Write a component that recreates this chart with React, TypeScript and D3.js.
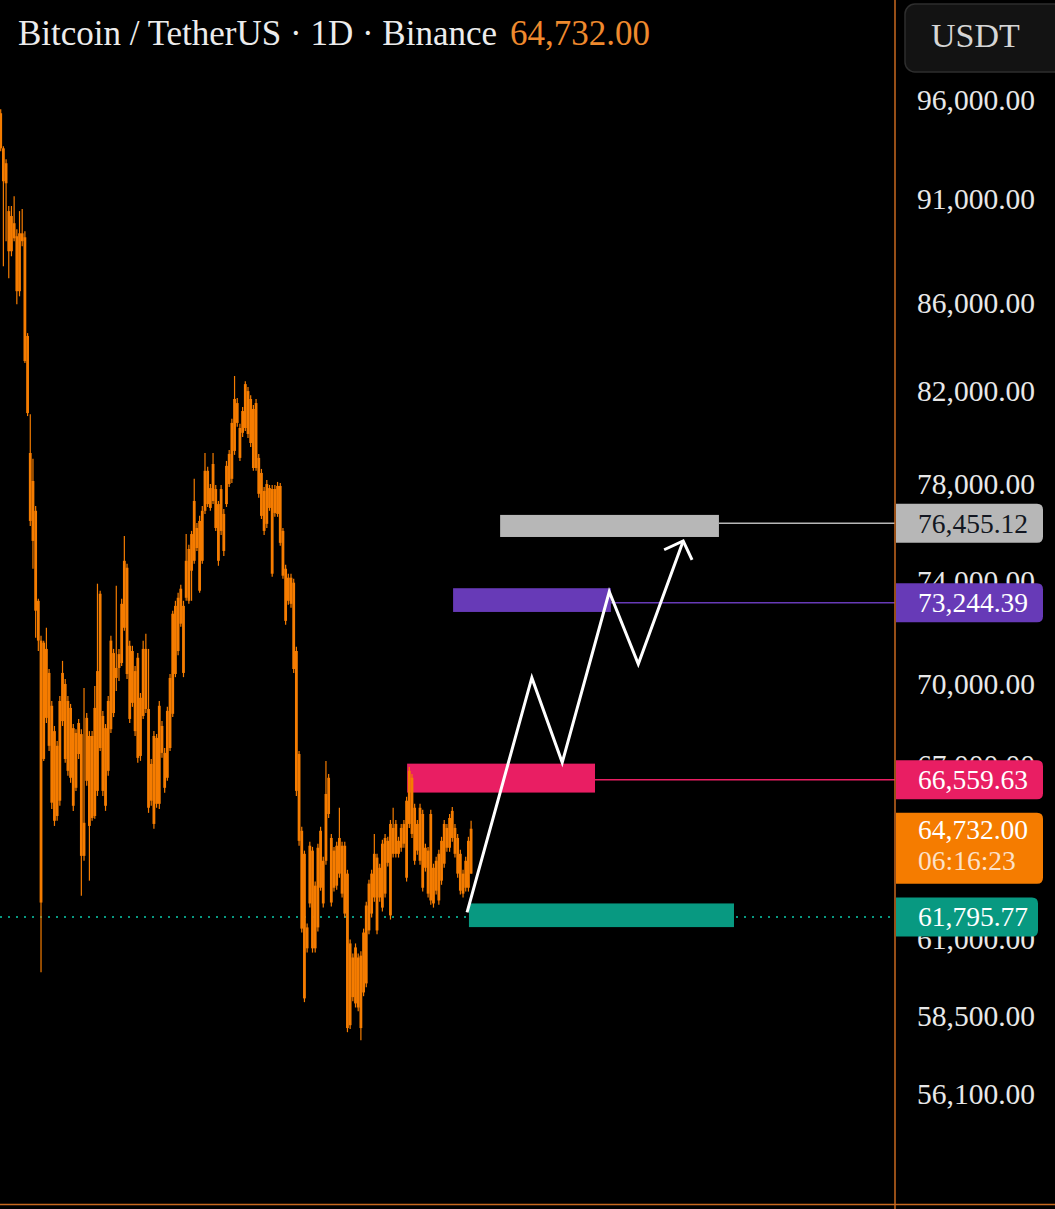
import { useEffect, useRef } from "react";
import * as d3 from "d3";

// daily candles, [open, high, low, close]
const ohlc: [number, number, number, number][] = [
  [95300, 95500, 93360, 93510], [93510, 93620, 87730, 91860], [91760, 92960, 88930, 92760], [90390, 90640, 87170, 88450],
  [88450, 90640, 88210, 90150], [89800, 91120, 88930, 89070], [89170, 89510, 85950, 86560], [86560, 90390, 86320, 89310],
  [89310, 90490, 88690, 88930], [89120, 89410, 83260, 83350], [84490, 84620, 80910, 81040], [79310, 80990, 76240, 76450],
  [78120, 79060, 74500, 75630], [76870, 77070, 71770, 72830], [73220, 73300, 71260, 71660], [71660, 71850, 59900, 62200],
  [67220, 71660, 67150, 71580], [71340, 72160, 68540, 68730], [70420, 70570, 67510, 67700], [69180, 69360, 65430, 65650],
  [68240, 68430, 64830, 65010], [65180, 67880, 65010, 67700], [65720, 69550, 65540, 69360], [68610, 70880, 68430, 70420],
  [70000, 70190, 67080, 67220], [66790, 69550, 66610, 69360], [69100, 69250, 66360, 66540], [68350, 68500, 65360, 65540],
  [66180, 68310, 66070, 68170], [68540, 68690, 67220, 67400], [68130, 68310, 62430, 63790], [63790, 69850, 63620, 64940],
  [66430, 68910, 66250, 68730], [68060, 68240, 62940, 64830], [65110, 68240, 65010, 68060], [65180, 69920, 65080, 69100],
  [66070, 73900, 65890, 70490], [73500, 73620, 67510, 67620], [68800, 68990, 65890, 66070], [65540, 68500, 65360, 68350],
  [66790, 69550, 66610, 69360], [68310, 71850, 68170, 71660], [71180, 71340, 68760, 68910], [70230, 73820, 69740, 70610],
  [70610, 71340, 70110, 71140], [70800, 73300, 70680, 73100], [72160, 75830, 72040, 74820], [74540, 74700, 70190, 70380],
  [71460, 71660, 68540, 68690], [69290, 71460, 69140, 71260], [70490, 70680, 68060, 68240], [67260, 71180, 67080, 71000],
  [69480, 69660, 67150, 67330], [68800, 71660, 68690, 71340], [71340, 71930, 68910, 69060], [69060, 71340, 65290, 65470],
  [65720, 67220, 65540, 67040], [68060, 68240, 64730, 64900], [65610, 68130, 65470, 67990], [65610, 69360, 65430, 69180],
  [68430, 68610, 67260, 67440], [67440, 67620, 66000, 66180], [66540, 69140, 66430, 68990], [67620, 70380, 67510, 70230],
  [68880, 72830, 68760, 72710], [70380, 73220, 70260, 73020], [71260, 73540, 71100, 73340], [72320, 73860, 72200, 73700],
  [73020, 73220, 70260, 70420], [73340, 75910, 73220, 74820], [73220, 75470, 73100, 75300], [74420, 76040, 73220, 75910],
  [74820, 78210, 74700, 77280], [76160, 76370, 75220, 75340], [76450, 76660, 73540, 73620], [74820, 77070, 74700, 76870],
  [76870, 79310, 76740, 78550], [78550, 78720, 77030, 77150], [76990, 77990, 76870, 77820], [77280, 79310, 77150, 78840],
  [77780, 77950, 76040, 76160], [77150, 77280, 74620, 74820], [76040, 77950, 75870, 77780], [76740, 76950, 75020, 75220],
  [77150, 78970, 77030, 78760], [77990, 79440, 77870, 79270], [78210, 80790, 78030, 80610], [79400, 82680, 79230, 81660],
  [81480, 81700, 80440, 80610], [80390, 80570, 78970, 79100], [80180, 81310, 80000, 81130], [80390, 82450, 80260, 82320],
  [82010, 82190, 79960, 80130], [81660, 81830, 79570, 79740], [81220, 81400, 78550, 78670], [78670, 81660, 78550, 81480],
  [79100, 79270, 77410, 77580], [78460, 78630, 76530, 76660], [77700, 77870, 75870, 76040], [76330, 78160, 76160, 77990],
  [77820, 77950, 76870, 76990], [77780, 77950, 74180, 74300], [76780, 77950, 76620, 77780], [76740, 78080, 76620, 77910],
  [77910, 78030, 75430, 75550], [76040, 76160, 74100, 74220], [74500, 74660, 72280, 72430], [73220, 74300, 73060, 74140],
  [74140, 74300, 72950, 73100], [73940, 74100, 70420, 70570], [71260, 71420, 65890, 66070], [67400, 67510, 64140, 64310],
  [64660, 64800, 61200, 61330], [63860, 63970, 58940, 59060], [60680, 61500, 60540, 61370], [62170, 64280, 62030, 64140],
  [63970, 64100, 60540, 60680], [60680, 62910, 60540, 62770], [61370, 64210, 61230, 64070], [62700, 64800, 62600, 64660],
  [63620, 63760, 62030, 62170], [63620, 67150, 63480, 65960], [65250, 66680, 65110, 66540], [64410, 64550, 62070, 62200],
  [62700, 64100, 62570, 63970], [64140, 64280, 62630, 62770], [63180, 65470, 63040, 64410], [64140, 64280, 62370, 62500],
  [61830, 64280, 61700, 64140], [63180, 63310, 57990, 58120], [58210, 60970, 58090, 60840], [60380, 60510, 58970, 59100],
  [58900, 60840, 58770, 60710], [60380, 60510, 58650, 58770], [60440, 60580, 57740, 58120], [59250, 61330, 59130, 61200],
  [59540, 62230, 59420, 62100], [61270, 62970, 61140, 62840], [61830, 63310, 61700, 63180], [62370, 64550, 62230, 63860],
  [63730, 63860, 61140, 61270], [62370, 63520, 62230, 63380], [62030, 64350, 61900, 64210], [64410, 64550, 62370, 62500],
  [63550, 64450, 63420, 64310], [61770, 65040, 61630, 64900], [63860, 65470, 63730, 64760], [64900, 65040, 63730, 63860],
  [63860, 64450, 63730, 64310], [64070, 64900, 63930, 64760], [64210, 65040, 64070, 64900], [63040, 65860, 62910, 65720],
  [64900, 66930, 64760, 66790], [66540, 66680, 64410, 64550], [65470, 65610, 63480, 63620], [63970, 65040, 63830, 64900],
  [63620, 65610, 63480, 65470], [65250, 65400, 62570, 62700], [63380, 64210, 63250, 64070], [63970, 64100, 62370, 62500],
  [62270, 65400, 62130, 65250], [63380, 63520, 62030, 62170], [62600, 63760, 62470, 63620], [63860, 64000, 62130, 62270],
  [62940, 64450, 62800, 64310], [63520, 65040, 63380, 64900], [64760, 64900, 63930, 64070], [64070, 65250, 63930, 65110],
  [64410, 65500, 64280, 65360], [64760, 64900, 63730, 63860], [64410, 64550, 63040, 63180], [63860, 64000, 62470, 62600],
  [63180, 63310, 62370, 62500], [62700, 63760, 62570, 63620], [62700, 64450, 62570, 64310], [63180, 65010, 63180, 64732],
];

const priceTicks = [96000, 91000, 86000, 82000, 78000, 74000, 70000, 67000, 61000, 58500, 56100];

// drawn zones: target, resistance, supply, support (bar index span, price band, level)
const zoneFrom = [185.8, 168.3, 151.2, 174.2];
const zoneTo = [267.2, 227.0, 221.1, 272.8];
const zoneTop = [76700, 73720, 67050, 62170];
const zoneBottom = [75790, 72780, 66010, 61380];
const zoneLevel = [76455.12, 73244.39, 66559.63, 61795.77];

// projected path
const pathBars = [173.5, 197.6, 208.9, 226.4, 237.2, 253.9];
const pathPrices = [61870, 70240, 67090, 73580, 70760, 75630];

const lastPrice = 64732.0;
const countdown = "06:16:23";
const title = "Bitcoin / TetherUS · 1D · Binance";
const currency = "USDT";

const W = 1055;
const H = 1209;
const axisX = 895;
const FONT = "'Liberation Serif', 'DejaVu Serif', serif";
const CANDLE = "#f57c00";
const zoneFill = ["#b7b7b7", "#673ab7", "#e91e63", "#089981"];
const zoneText = ["#131722", "#ffffff", "#ffffff", "#ffffff"];

export default function App() {
  const ref = useRef<SVGSVGElement>(null);

  useEffect(() => {
    const svg = d3.select(ref.current);
    svg.selectAll("*").remove();

    const x = d3.scaleLinear().domain([0, ohlc.length - 1]).range([0.7, 471.1]);
    const y = d3.scaleLog().domain([58500, 70000]).range([1016, 684]);
    const fmt = d3.format(",.2f");
    // price labels / level lines sit slightly lower than the raw price row
    const ly0 = 2.5;

    svg.append("rect").attr("width", W).attr("height", H).attr("fill", "#000");

    svg.append("clipPath").attr("id", "plot")
      .append("rect").attr("x", 0).attr("y", 0).attr("width", axisX).attr("height", 1204);

    const plot = svg.append("g").attr("clip-path", "url(#plot)");

    // dotted support level across the plot
    plot.append("line")
      .attr("x1", 0).attr("x2", axisX)
      .attr("y1", y(zoneLevel[3]) + ly0).attr("y2", y(zoneLevel[3]) + ly0)
      .attr("stroke", zoneFill[3]).attr("stroke-width", 2)
      .attr("stroke-dasharray", "2 6");

    // zones + level lines
    zoneFrom.forEach((f, i) => {
      plot.append("rect")
        .attr("x", x(f)).attr("width", x(zoneTo[i]) - x(f))
        .attr("y", y(zoneTop[i])).attr("height", y(zoneBottom[i]) - y(zoneTop[i]))
        .attr("fill", zoneFill[i]);
      if (i < 3) {
        plot.append("line")
          .attr("x1", x(zoneTo[i])).attr("x2", axisX)
          .attr("y1", y(zoneLevel[i]) + ly0).attr("y2", y(zoneLevel[i]) + ly0)
          .attr("stroke", zoneFill[i]).attr("stroke-width", 1.5);
      }
    });

    // candles
    const c = plot.append("g");
    c.selectAll("line.wick").data(ohlc).enter().append("line")
      .attr("class", "wick")
      .attr("x1", (_, i) => x(i)).attr("x2", (_, i) => x(i))
      .attr("y1", (d) => y(d[1])).attr("y2", (d) => y(d[2]))
      .attr("stroke", CANDLE).attr("stroke-width", 1.2);
    c.selectAll("rect.body").data(ohlc).enter().append("rect")
      .attr("class", "body")
      .attr("x", (_, i) => x(i) - 1.4).attr("width", 2.8)
      .attr("y", (d) => y(Math.max(d[0], d[3])))
      .attr("height", (d) => Math.max(1, Math.abs(y(d[0]) - y(d[3]))))
      .attr("fill", CANDLE);

    // projection zigzag with arrow head
    const pts: [number, number][] = pathBars.map((b, i) => [x(b), y(pathPrices[i])]);
    plot.append("path")
      .attr("d", d3.line()(pts))
      .attr("fill", "none").attr("stroke", "#fff").attr("stroke-width", 3)
      .attr("stroke-linejoin", "miter");
    const [tx, ty] = pts[pts.length - 1];
    const [px, py] = pts[pts.length - 2];
    const ang = Math.atan2(ty - py, tx - px);
    const arm = 21;
    const a1 = ang + Math.PI - Math.PI / 4;
    const a2 = ang + Math.PI + Math.PI / 4;
    plot.append("path")
      .attr("d", `M${tx + arm * Math.cos(a1)},${ty + arm * Math.sin(a1)}L${tx},${ty}L${tx + arm * Math.cos(a2)},${ty + arm * Math.sin(a2)}`)
      .attr("fill", "none").attr("stroke", "#fff").attr("stroke-width", 3);

    // axis borders
    svg.append("line").attr("x1", axisX).attr("x2", axisX).attr("y1", 0).attr("y2", H)
      .attr("stroke", "#c8691f").attr("stroke-width", 1.5);
    svg.append("line").attr("x1", 0).attr("x2", W).attr("y1", 1204.5).attr("y2", 1204.5)
      .attr("stroke", "#c8691f").attr("stroke-width", 1.5);

    // tick labels
    svg.append("g").selectAll("text").data(priceTicks).enter().append("text")
      .attr("x", 917).attr("y", (d) => y(d)).attr("dy", "0.34em")
      .attr("font-family", FONT).attr("font-size", 29.5).attr("fill", "#e8e8e8")
      .text((d) => fmt(d));

    const labelPath = (top: number, bottom: number, w: number) => {
      const r = 6;
      const l = axisX + 1;
      return `M${l},${top}H${l + w - r}Q${l + w},${top} ${l + w},${top + r}V${bottom - r}Q${l + w},${bottom} ${l + w - r},${bottom}H${l}Z`;
    };

    // level labels
    zoneLevel.forEach((v, i) => {
      const cy = y(v) + ly0;
      svg.append("path").attr("d", labelPath(cy - 19.5, cy + 19.5, i === 3 ? 142 : 147)).attr("fill", zoneFill[i]);
      svg.append("text").attr("x", 918).attr("y", cy).attr("dy", "0.34em")
        .attr("font-family", FONT).attr("font-size", 27.5).attr("fill", zoneText[i])
        .text(fmt(v));
    });

    // last price label with countdown
    const ly = y(lastPrice) + 1;
    svg.append("path").attr("d", labelPath(ly - 17, ly + 54, 147)).attr("fill", CANDLE);
    svg.append("text").attr("x", 918).attr("y", ly).attr("dy", "0.34em")
      .attr("font-family", FONT).attr("font-size", 27.5).attr("fill", "#fff").text(fmt(lastPrice));
    svg.append("text").attr("x", 918).attr("y", ly + 31).attr("dy", "0.34em")
      .attr("font-family", FONT).attr("font-size", 27.5).attr("fill", "#fff").attr("fill-opacity", 0.78)
      .text(countdown);

    // currency button
    svg.append("rect").attr("x", 905).attr("y", 4).attr("width", 170).attr("height", 68).attr("rx", 10)
      .attr("fill", "#131313").attr("stroke", "#2e2e2e").attr("stroke-width", 1.5);
    svg.append("text").attr("x", 931).attr("y", 47)
      .attr("font-family", FONT).attr("font-size", 34).attr("fill", "#d6d6d6").text(currency);

    // header
    svg.append("text").attr("x", 18).attr("y", 45)
      .attr("font-family", FONT).attr("font-size", 35).attr("fill", "#ececec").text(title);
    svg.append("text").attr("x", 510).attr("y", 45)
      .attr("font-family", FONT).attr("font-size", 35).attr("fill", "#ef8a2e").text(fmt(lastPrice));
  }, []);

  return (
    <>
      <style>{`body{margin:0;background:#000}`}</style>
      <svg ref={ref} width={W} height={H} style={{ display: "block", background: "#000" }} />
    </>
  );
}
